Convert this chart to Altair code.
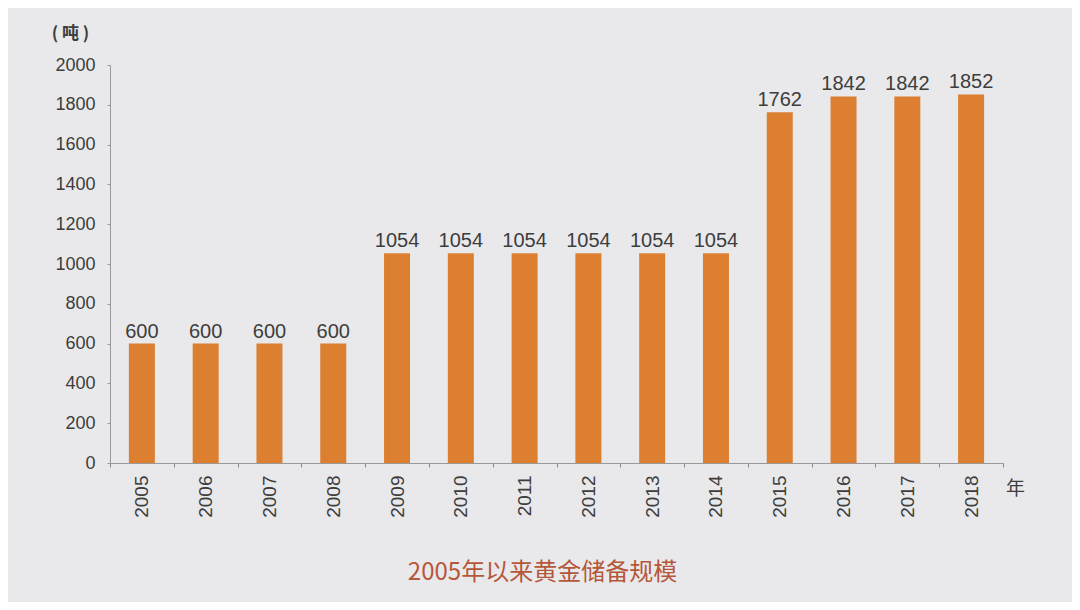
import altair as alt
import pandas as pd

years = ["2005", "2006", "2007", "2008", "2009", "2010", "2011", "2012",
         "2013", "2014", "2015", "2016", "2017", "2018"]
reserves = [600, 600, 600, 600, 1054, 1054, 1054, 1054, 1054, 1054, 1762, 1842, 1842, 1852]
y_ticks = [0, 200, 400, 600, 800, 1000, 1200, 1400, 1600, 1800, 2000]

df = pd.DataFrame({"year": years, "value": reserves})

FONT = "Liberation Sans, Noto Sans CJK SC, sans-serif"
TEXT = "#3d3d3d"

base = alt.Chart(df).encode(
    x=alt.X("year:N", sort=years,
            scale=alt.Scale(paddingInner=0.0, paddingOuter=0.0),
            axis=alt.Axis(title="年", titleAngle=0, titleX=905, titleY=16,
                          titleFontSize=19, titleFontWeight="normal", titleColor=TEXT,
                          titleFont="Noto Sans CJK SC",
                          labelAngle=-90, labelAlign="right", labelBaseline="middle",
                          labelFontSize=19, labelColor=TEXT, labelPadding=8,
                          labelOverlap=False,
                          tickBand="extent", tickSize=4, tickColor="#888888",
                          domainColor="#999999", grid=False)),
    y=alt.Y("value:Q", scale=alt.Scale(domain=[0, 2000], nice=False),
            axis=alt.Axis(values=y_ticks, format="d", title="( 吨 )", titleAngle=0,
                          titleX=-40, titleY=-32, titleAlign="center", titleBaseline="middle",
                          titleFontSize=17, titleFontWeight="bold", titleColor=TEXT,
                          titleFont="Noto Sans CJK SC",
                          labelFontSize=18, labelColor=TEXT, labelPadding=12,
                          labelOverlap=False, labelBound=False,
                          tickSize=3, tickColor="#999999", domainColor="#999999",
                          grid=False)),
)

bars = base.mark_bar(color="#dc7f31", width=26)

labels = base.mark_text(baseline="bottom", dy=-2, fontSize=20, color=TEXT, font=FONT).encode(
    text="value:Q",
)

chart = (bars + labels).properties(
    width=893, height=398,
    background="#e9e9eb",
    view=alt.ViewBackground(stroke="transparent", strokeWidth=0),
    padding={"left": 102, "top": 57, "right": 69, "bottom": 139},
    autosize=alt.AutoSizeParams(type="none"),
    title=alt.TitleParams("2005年以来黄金储备规模", orient="bottom", anchor="middle",
                          offset=44, dx=-14, fontSize=24, fontWeight="normal",
                          color="#b5573b", font="Noto Sans CJK SC"),
).configure_view(strokeWidth=0, stroke="transparent").configure(font=FONT)

chart.save("out.html", embed_options={"renderer": "svg", "actions": False})
